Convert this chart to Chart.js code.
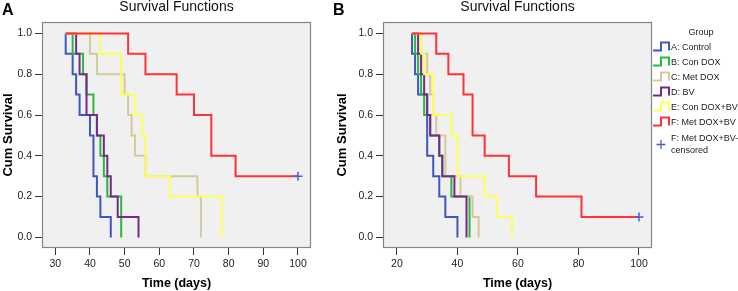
<!DOCTYPE html>
<html>
<head>
<meta charset="utf-8">
<script src="https://cdn.jsdelivr.net/npm/chart.js@4/dist/chart.umd.min.js"></script>
<style>
  body { margin: 0; background: #fff; font-family: "Liberation Sans", Arial, sans-serif; }
  #wrap { position: relative; width: 738px; height: 291px; overflow: hidden; }
  #chartA { position: absolute; left: 0; top: 0; }
  #chartB { position: absolute; left: 330px; top: 0; }
  #legend { position: absolute; left: 652px; top: 26px; width: 86px; font-size: 9px; color: #1a1a1a; }
  #legend .ttl { height: 13px; line-height: 13px; text-align: center; padding-left: 12px; }
  #legend .item { display: flex; align-items: center; height: 15px; white-space: nowrap; }
  #legend .item.two { height: 26px; margin-top: 2px; line-height: 12px; }
  #legend svg { flex: none; margin-right: 1px; }
</style>
</head>
<body>
<div id="wrap">
  <canvas id="chartA" width="330" height="291"></canvas>
  <canvas id="chartB" width="330" height="291"></canvas>
  <div id="legend"></div>
</div>
<script>
// 群の名前と色
const groupNames = ["A: Control", "B: Con DOX", "C: Met DOX", "D: BV", "E: Con DOX+BV", "F: Met DOX+BV"];
const groupColors = ["#3e58be", "#2ab93c", "#d4ca98", "#762a89", "#ffff55", "#ff3237"];
const censoredLabel = ["F: Met DOX+BV-", "censored"];
const censoredColor = "#4a5fcf";

// パネルA (時間[日], 累積生存率)
const timeA_control = [33, 33, 35, 36, 37, 40, 41, 42, 43, 46];
const survA_control = [1, 0.9, 0.8, 0.7, 0.6, 0.5, 0.3, 0.2, 0.1, 0];
const timeA_conDox = [33, 35, 38, 39, 41, 42, 43, 44, 45, 49];
const survA_conDox = [1, 0.9, 0.8, 0.7, 0.6, 0.5, 0.4, 0.3, 0.2, 0];
const timeA_metDox = [33, 40, 42, 50, 51, 52, 53, 56, 71, 72];
const survA_metDox = [1, 0.9, 0.8, 0.7, 0.6, 0.5, 0.4, 0.3, 0.2, 0];
const timeA_bv = [33, 36, 37, 39, 42, 44, 45, 46, 48, 54];
const survA_bv = [1, 0.9, 0.8, 0.6, 0.5, 0.4, 0.3, 0.2, 0.1, 0];
const timeA_conDoxBv = [33, 43, 49, 53, 55, 56, 63, 78];
const survA_conDoxBv = [1, 0.9, 0.7, 0.6, 0.5, 0.3, 0.2, 0];
const timeA_metDoxBv = [33, 51, 56, 65, 70, 75, 82, 100];
const survA_metDoxBv = [1, 0.9, 0.8, 0.7, 0.6, 0.4, 0.3, 0.3];
const censA_time = [100];
const censA_surv = [0.3];

// パネルB
const timeB_control = [25, 25, 26, 27, 30, 32, 34, 36, 40];
const survB_control = [1, 0.9, 0.8, 0.7, 0.4, 0.3, 0.2, 0.1, 0];
const timeB_conDox = [25, 26, 27, 28, 29, 31, 34, 35, 38, 44];
const survB_conDox = [1, 0.9, 0.8, 0.7, 0.6, 0.5, 0.4, 0.3, 0.2, 0];
const timeB_metDox = [25, 28, 30, 31, 32, 33, 36, 41, 45, 47];
const survB_metDox = [1, 0.9, 0.8, 0.7, 0.6, 0.5, 0.3, 0.2, 0.1, 0];
const timeB_bv = [25, 27, 28, 29, 30, 31, 34, 35, 39, 43];
const survB_bv = [1, 0.9, 0.8, 0.7, 0.6, 0.5, 0.4, 0.3, 0.2, 0];
const timeB_conDoxBv = [25, 28, 29, 32, 38, 40, 49, 53, 58];
const survB_conDoxBv = [1, 0.9, 0.8, 0.6, 0.5, 0.3, 0.2, 0.1, 0];
const timeB_metDoxBv = [25, 33, 37, 42, 45, 49, 57, 66, 81, 100];
const survB_metDoxBv = [1, 0.9, 0.8, 0.7, 0.5, 0.4, 0.3, 0.2, 0.1, 0.1];
const censB_time = [100];
const censB_surv = [0.1];

// 目盛り
const xTicksA = [30, 40, 50, 60, 70, 80, 90, 100];
const xTicksB = [20, 40, 60, 80, 100];
const yTicks = [0, 0.2, 0.4, 0.6, 0.8, 1.0];

Chart.defaults.font.family = '"Liberation Sans", Arial, sans-serif';

function toPoints(times, survs) {
  return times.map((t, i) => ({ x: t, y: survs[i] }));
}

// 背景と枠、パネル文字とタイトル
const panelPlugin = {
  id: "panelText",
  beforeDraw(chart, args, opts) {
    let a = chart.chartArea;
    let ctx = chart.ctx;
    ctx.save();
    ctx.fillStyle = "#f0f0f0";
    ctx.fillRect(a.left, a.top, a.right - a.left, a.bottom - a.top);
    ctx.strokeStyle = "#858585";
    ctx.lineWidth = 1.2;
    ctx.strokeRect(a.left + 0.5, a.top + 0.5, a.right - a.left - 1, a.bottom - a.top - 1);
    ctx.fillStyle = "#000";
    ctx.textBaseline = "alphabetic";
    ctx.textAlign = "left";
    ctx.font = 'bold 16px "Liberation Sans", Arial, sans-serif';
    ctx.fillText(opts.letter, opts.letterX, 15);
    ctx.textAlign = "center";
    ctx.font = '14px "Liberation Sans", Arial, sans-serif';
    ctx.fillStyle = "#111";
    ctx.fillText(opts.title, (a.left + a.right) / 2, 11);
    ctx.restore();
  },
};

function makePanel(canvasId, series, cens, xTicks, xMin, xMax, pad, yWidth, letter, letterX) {
  let datasets = [
    {
      data: toPoints(cens[0], cens[1]),
      showLine: false,
      pointStyle: "cross",
      pointRadius: 4.5,
      pointBorderWidth: 1.5,
      borderColor: censoredColor,
      backgroundColor: censoredColor,
    },
  ];
  // F が一番上に描かれるように逆順で入れる
  for (let i = series.length - 1; i >= 0; i--) {
    datasets.push({
      data: toPoints(series[i][0], series[i][1]),
      borderColor: groupColors[i],
      borderWidth: 2,
      stepped: true,
      pointRadius: 0,
      fill: false,
    });
  }
  let options = {
    responsive: false,
    animation: false,
    layout: { padding: pad },
    plugins: {
      legend: { display: false },
      tooltip: { enabled: false },
      panelText: { letter: letter, letterX: letterX, title: "Survival Functions" },
    },
    scales: {
      x: {
        type: "linear",
        min: xMin,
        max: xMax,
        afterBuildTicks: (s) => {
          s.ticks = xTicks.map((v) => ({ value: v }));
        },
        afterFit: (s) => {
          s.height = 43;
          s.paddingLeft = 0;
          s.paddingRight = 0;
        },
        border: { display: false },
        grid: { drawOnChartArea: false, tickLength: 7, color: "#333", lineWidth: 1 },
        ticks: { padding: 3, color: "#222", font: { size: 10.5 }, maxRotation: 0, autoSkip: false },
        title: {
          display: true,
          text: "Time (days)",
          color: "#000",
          font: { size: 12.5, weight: "bold" },
          padding: { top: 0, bottom: 0 },
        },
      },
      y: {
        min: -0.052,
        max: 1.056,
        afterBuildTicks: (s) => {
          s.ticks = yTicks.map((v) => ({ value: v }));
        },
        afterFit: (s) => {
          s.width = yWidth;
          s.paddingTop = 0;
          s.paddingBottom = 0;
        },
        border: { display: false },
        grid: { drawOnChartArea: false, tickLength: 7, color: "#333", lineWidth: 1 },
        ticks: { padding: 3, color: "#222", font: { size: 10.5 }, callback: (v) => v.toFixed(1) },
        title: {
          display: true,
          text: "Cum Survival",
          color: "#000",
          font: { size: 13, weight: "bold" },
          padding: { top: 1, bottom: 0 },
        },
      },
    },
  };
  return new Chart(document.getElementById(canvasId).getContext("2d"), {
    type: "line",
    data: { datasets: datasets },
    options: options,
    plugins: [panelPlugin],
  });
}

makePanel(
  "chartA",
  [
    [timeA_control, survA_control],
    [timeA_conDox, survA_conDox],
    [timeA_metDox, survA_metDox],
    [timeA_bv, survA_bv],
    [timeA_conDoxBv, survA_conDoxBv],
    [timeA_metDoxBv, survA_metDoxBv],
  ],
  [censA_time, censA_surv],
  xTicksA, 26.16, 103.75,
  { top: 22, right: 19, left: 0, bottom: 0 }, 42, "A", 2
);

makePanel(
  "chartB",
  [
    [timeB_control, survB_control],
    [timeB_conDox, survB_conDox],
    [timeB_metDox, survB_metDox],
    [timeB_bv, survB_bv],
    [timeB_conDoxBv, survB_conDoxBv],
    [timeB_metDoxBv, survB_metDoxBv],
  ],
  [censB_time, censB_surv],
  xTicksB, 15.4, 104.3,
  { top: 22, right: 8, left: 4, bottom: 0 }, 49, "B", 3
);

// 凡例 (HTML)
let legend = document.getElementById("legend");
let html = '<div class="ttl">Group</div>';
groupNames.forEach((name, i) => {
  html +=
    '<div class="item"><svg width="18" height="11"><polyline points="1,9.5 9,9.5 9,1.5 17,1.5 17,9.5" fill="none" stroke="' +
    groupColors[i] + '" stroke-width="2"/></svg><span>' + name + "</span></div>";
});
html +=
  '<div class="item two"><svg width="18" height="11"><path d="M9 1 V10 M4.5 5.5 H13.5" stroke="' +
  censoredColor + '" stroke-width="1.3"/></svg><span>' + censoredLabel.join("<br>") + "</span></div>";
legend.innerHTML = html;
</script>
</body>
</html>
